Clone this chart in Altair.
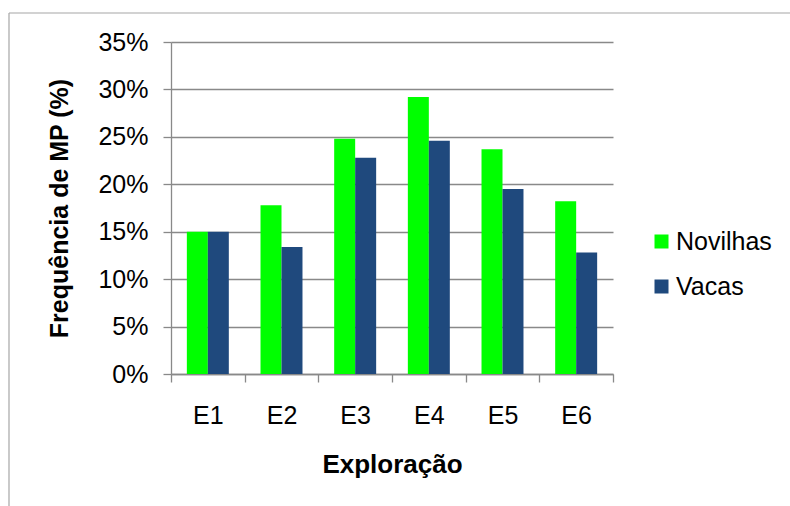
import altair as alt
import pandas as pd

# Frequência de MP por exploração, novilhas vs vacas
exploracoes = ["E1", "E2", "E3", "E4", "E5", "E6"]
grupos = ["Novilhas", "Vacas"]
novilhas = [15.0, 17.8, 24.8, 29.2, 23.7, 18.2]
vacas = [15.0, 13.4, 22.8, 24.6, 19.5, 12.8]
cores = ["#00FF00", "#1F497D"]
y_ticks = [0, 0.05, 0.10, 0.15, 0.20, 0.25, 0.30, 0.35]

rows = []
for e, n, v in zip(exploracoes, novilhas, vacas):
    rows.append({"exploracao": e, "grupo": "Novilhas", "freq": n / 100})
    rows.append({"exploracao": e, "grupo": "Vacas", "freq": v / 100})
df = pd.DataFrame(rows)

FONT = "Liberation Sans"
AXIS_GRAY = "#898989"

bars = alt.Chart(df).mark_bar().encode(
    x=alt.X(
        "exploracao:N",
        sort=exploracoes,
        title="Exploração",
        scale=alt.Scale(paddingInner=0, paddingOuter=0),
        axis=alt.Axis(
            labelAngle=0,
            tickBand="extent",
            grid=False,
            titlePadding=23,
            titleFontSize=26,
            labelPadding=21,
        ),
    ),
    xOffset=alt.XOffset(
        "grupo:N", sort=grupos, scale=alt.Scale(paddingInner=0, paddingOuter=0.755)
    ),
    y=alt.Y(
        "freq:Q",
        title="Frequência de MP (%)",
        scale=alt.Scale(domain=[0, 0.35], nice=False),
        axis=alt.Axis(
            format=".0%",
            values=y_ticks,
            grid=True,
            labelPadding=15,
            titlePadding=25,
            titleFontSize=25,
        ),
    ),
    color=alt.Color(
        "grupo:N",
        scale=alt.Scale(domain=grupos, range=cores),
        legend=alt.Legend(
            title=None,
            orient="none",
            legendX=478,
            legendY=187,
            symbolType="square",
            symbolSize=196,
            symbolStrokeWidth=0,
            labelFontSize=25,
            labelFont=FONT,
            labelColor="black",
            labelOffset=2,
            rowPadding=19,
            padding=0,
        ),
    ),
)

# moldura exterior do gráfico (cantos superior e esquerdo)
frame_df = pd.DataFrame({"k": [0]})
frame_top = alt.Chart(frame_df).mark_rule(color="#a6a6a6", strokeWidth=1.2).encode(
    x=alt.value(-162), x2=alt.value(619), y=alt.value(-29)
)
frame_left = alt.Chart(frame_df).mark_rule(color="#a6a6a6", strokeWidth=1.2).encode(
    x=alt.value(-162), y=alt.value(-29), y2=alt.value(464)
)

chart = (
    alt.layer(bars, frame_top, frame_left)
    .properties(
        width=442,
        height=332,
        autosize=alt.AutoSizeParams(type="none"),
        padding={"left": 171, "top": 42, "right": 177, "bottom": 132},
        background="white",
    )
    .configure_view(stroke=None)
    .configure_axis(
        labelFont=FONT,
        labelFontSize=25,
        labelColor="black",
        titleFont=FONT,
        titleFontWeight="bold",
        titleColor="black",
        domainColor=AXIS_GRAY,
        domainWidth=1.3,
        tickColor=AXIS_GRAY,
        tickWidth=1.3,
        tickSize=8,
        gridColor=AXIS_GRAY,
        gridWidth=1.3,
    )
)

chart.save("out.html", embed_options={"renderer": "svg", "actions": False})
